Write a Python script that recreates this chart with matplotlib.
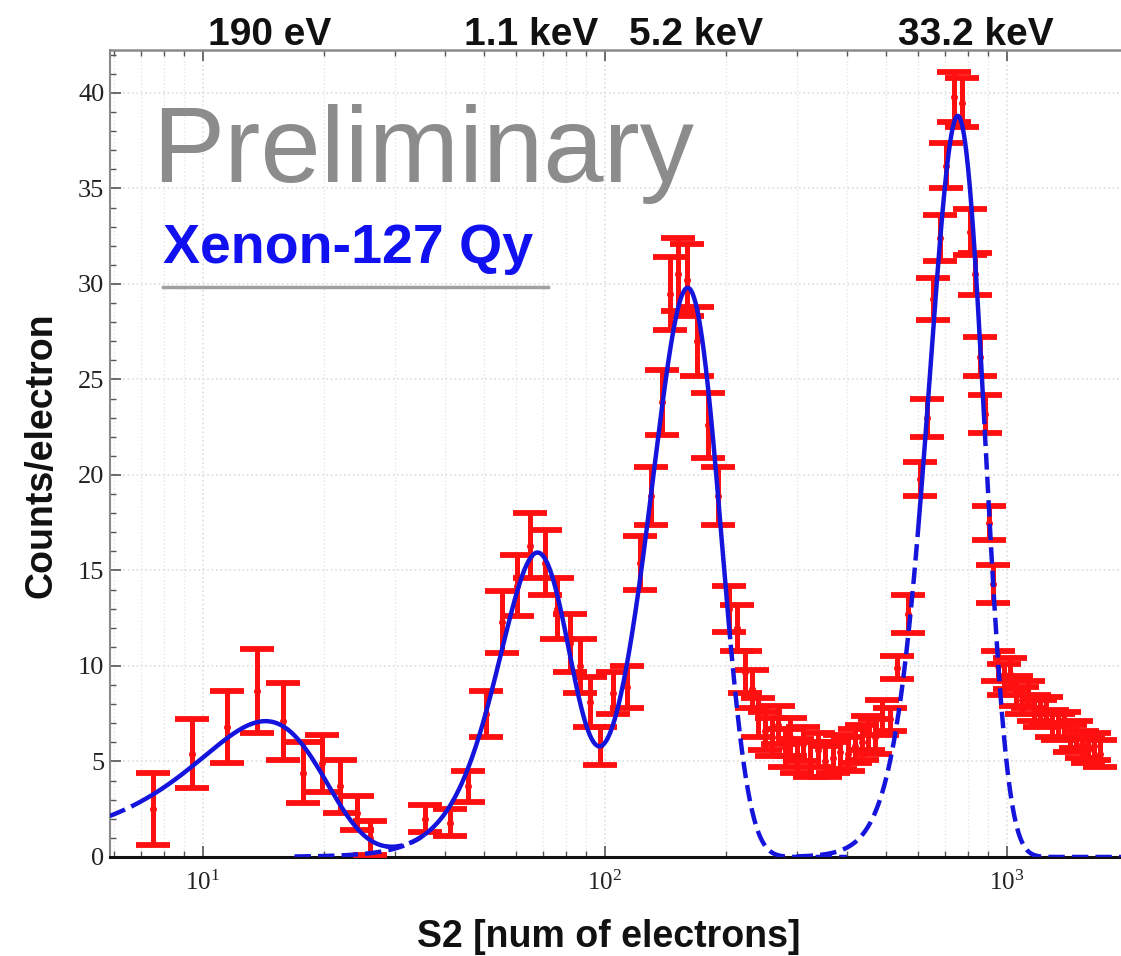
import numpy as np
import matplotlib
matplotlib.use('Agg')
import matplotlib.pyplot as plt
from matplotlib.lines import Line2D
from matplotlib.ticker import LogLocator, MultipleLocator, NullFormatter

plt.rcParams['font.family'] = 'serif'
plt.rcParams['font.serif'] = ['Liberation Serif', 'DejaVu Serif']
plt.rcParams['mathtext.fontset'] = 'stix'

# S2 bins [electrons], counts per electron and statistical errors
s2_190ev = [7.5, 9.4, 11.5, 13.6, 15.8, 17.7, 19.8, 21.9, 24.2, 26.0]
cnt_190ev = [2.5, 5.4, 6.8, 8.7, 7.1, 4.4, 4.9, 3.7, 2.3, 1.0]
err_190ev = [1.9, 1.8, 1.9, 2.2, 2.0, 1.6, 1.5, 1.4, 0.9, 0.9]

s2_1kev = [35.7, 41.2, 45.6, 50.6, 55.4, 60.4, 65.1, 70.9, 76.0, 81.8,
           86.7, 91.8, 97.2, 104.7, 113.4]
cnt_1kev = [2.0, 1.8, 3.7, 7.5, 12.3, 14.2, 16.3, 15.4, 13.0, 11.2,
            10.0, 8.1, 5.8, 8.6, 8.9]
err_1kev = [0.7, 0.7, 0.8, 1.2, 1.6, 1.6, 1.7, 1.7, 1.6, 1.5,
            1.4, 1.3, 1.0, 1.1, 1.1]

s2_5kev = [122.2, 130.1, 138.7, 145.1, 151.9, 160.0, 169.4, 180.4, 191.0,
           203.5, 213.0, 223.0, 232.2, 240.3, 250.0, 260.3, 269.4, 280.4,
           288.6, 300.4, 310.8, 323.6, 338.8, 352.7, 369.3, 384.4, 402.4,
           418.8, 436.0, 451.1, 469.5, 488.7]
cnt_5kev = [15.4, 18.9, 23.8, 29.5, 30.5, 30.2, 27.0, 22.6, 18.9,
            13.0, 12.0, 9.7, 8.8, 7.3, 6.6, 6.3, 6.9, 5.7,
            6.3, 5.3, 5.9, 5.1, 5.6, 5.0, 5.2, 5.5, 5.4,
            5.8, 6.0, 6.5, 6.3, 7.3]
err_5kev = [1.4, 1.5, 1.7, 1.9, 1.9, 1.9, 1.8, 1.7, 1.5,
            1.2, 1.2, 1.1, 1.0, 1.0, 1.0, 1.0, 1.0, 1.0,
            1.0, 0.9, 0.9, 0.9, 0.9, 0.8, 0.8, 0.9, 0.9,
            0.9, 0.9, 0.9, 0.9, 0.9]

s2_33kev = [511.7, 532.6, 567.3, 607.7, 632.4, 654.5, 681.3, 705.2, 738.3,
            773.0, 809.1, 832.6, 856.8, 881.7, 902.1, 923.0, 949.8, 983.0,
            1017.4, 1053.0, 1089.8, 1128.0, 1167.4, 1208.3, 1250.3, 1294.1,
            1339.3, 1386.2, 1434.7, 1484.9, 1536.5, 1590.4, 1646.0, 1703.7]
cnt_33kev = [7.2, 9.9, 12.7, 19.8, 23.0, 29.2, 32.4, 36.2, 39.8,
             39.5, 32.7, 30.5, 26.2, 23.2, 17.5, 14.3, 10.0, 9.3,
             9.6, 8.7, 8.2, 8.5, 7.8, 7.5, 7.7, 7.0,
             6.8, 6.9, 6.2, 6.4, 5.9, 5.6, 5.8, 5.4]
err_33kev = [0.6, 0.6, 1.0, 0.9, 1.0, 1.1, 1.2, 1.2, 1.3,
             1.3, 1.2, 1.1, 1.0, 1.0, 0.9, 1.0, 0.8, 0.8,
             0.8, 0.8, 0.7, 0.7, 0.7, 0.7, 0.7, 0.7,
             0.7, 0.7, 0.7, 0.7, 0.7, 0.7, 0.7, 0.7]

# gaussian peak parameters (linear in S2)
peak_amp = [7.1, 15.5, 29.8, 38.8]
peak_mean = [14.3, 67.5, 160.7, 755.0]
peak_sigma = [5.45, 14.0, 32.0, 120.0]

# fits: components used, fitted range (solid), drawn range (dashed)
fit_parts = [[0, 1], [1, 2], [3]]
fit_range = [(6.7, 28.5), (36.0, 205.0), (600.0, 880.0)]
draw_range = [(5.87, 35.0), (16.9, 400.0), (300.0, 1925.0)]

peak_labels = ['190 eV', '1.1 keV', '5.2 keV', '33.2 keV']
label_pos = [14.7, 65.5, 169.0, 838.0]


def model(x, parts):
    y = np.zeros_like(x)
    for i in parts:
        y += peak_amp[i] * np.exp(-(x - peak_mean[i]) ** 2 / (2 * peak_sigma[i] ** 2))
    return y


fig = plt.figure(figsize=(11.21, 9.56), dpi=100)
ax = fig.add_axes([0.098, 0.1036, 0.902, 0.8441])

s2 = np.concatenate([s2_190ev, s2_1kev, s2_5kev, s2_33kev])
cnt = np.concatenate([cnt_190ev, cnt_1kev, cnt_5kev, cnt_33kev])
err = np.concatenate([err_190ev, err_1kev, err_5kev, err_33kev])

ax.errorbar(s2, cnt, yerr=err, fmt='.', color='#ff1010', ms=8,
            elinewidth=3.6, capsize=12, capthick=4.2, zorder=3)

blue = '#1414dc'
for parts, (a, b), (lo, hi) in zip(fit_parts, fit_range, draw_range):
    xx = np.geomspace(lo, hi, 800)
    yy = model(xx, parts)
    inside = (xx >= a) & (xx <= b)
    ax.plot(xx, np.where(inside, np.nan, yy), '--', color=blue, lw=3.2, zorder=4)
    ax.plot(xx[inside], yy[inside], '-', color=blue, lw=3.2, zorder=5)

ax.set_xscale('log')
ax.set_xlim(5.87, 1923)
ax.set_ylim(0, 42.25)

ax.xaxis.set_major_locator(LogLocator(base=10))
ax.xaxis.set_minor_locator(LogLocator(base=10, subs=np.arange(2, 10)))
ax.xaxis.set_minor_formatter(NullFormatter())
ax.yaxis.set_major_locator(MultipleLocator(5))
ax.yaxis.set_minor_locator(MultipleLocator(1))

ax.tick_params(which='both', direction='in', top=True, right=False,
               colors='#555555', labelcolor='#222222')
ax.tick_params(which='major', length=8, width=1.2)
ax.tick_params(which='minor', length=4, width=1.0)
ax.tick_params(axis='y', labelsize=19, pad=4)
ax.tick_params(axis='x', labelsize=18, pad=10)

ax.grid(True, which='major', color='#dedede', ls=':', lw=1.2)
ax.grid(True, which='minor', axis='x', color='#e6e6e6', ls=':', lw=1.0)

ax.spines['right'].set_visible(False)
ax.spines['bottom'].set_color('#111111')
ax.spines['bottom'].set_linewidth(2.2)
ax.spines['left'].set_color('#8a8a8a')
ax.spines['left'].set_linewidth(1.5)
ax.spines['top'].set_color('#8a8a8a')
ax.spines['top'].set_linewidth(1.8)

sans = 'Liberation Sans'
for lab, xp in zip(peak_labels, label_pos):
    ax.text(xp, 1.0062, lab, transform=ax.get_xaxis_transform(),
            ha='center', va='baseline', fontsize=28, fontweight='bold',
            family=sans, color='#111111')

fig.text(609 / 1121, 1 - 937 / 956, 'S2 [num of electrons]', ha='center',
         va='center', fontsize=27, fontweight='bold', family=sans, color='#111111')
fig.text(42 / 1121, 1 - 455 / 956, 'Counts/electron', ha='center',
         va='center', rotation=90, fontsize=27, fontweight='bold', family=sans,
         color='#111111')

fig.text(152 / 1121, 1 - 182 / 956, 'Preliminary', ha='left', va='baseline',
         fontsize=78, family=sans, color='#8c8c8c')
fig.text(163 / 1121, 1 - 263 / 956, 'Xenon-127 Qy', ha='left', va='baseline',
         fontsize=40, fontweight='bold', family=sans, color='#1010f0')
fig.add_artist(Line2D([163 / 1121, 548 / 1121], [1 - 287 / 956, 1 - 287 / 956],
                      color='#a0a0a0', lw=2.5))

fig.savefig('out.png', dpi=100)
